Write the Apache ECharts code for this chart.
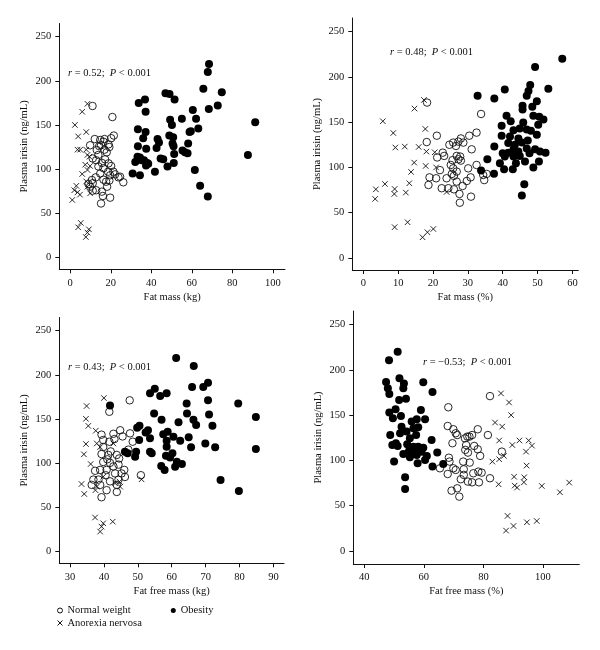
<!DOCTYPE html>
<html>
<head>
<meta charset="utf-8">
<script src="https://cdn.jsdelivr.net/npm/echarts@6/dist/echarts.min.js"></script>
<style>html,body{margin:0;padding:0;background:#fff;}#c{width:600px;height:650px;}</style>
</head>
<body>
<div id="c"></div>
<script>
// ---------- Panel 1: Fat mass (kg) vs plasma irisin ----------
const normal1 = [[11,171.5],[20.8,159],[21.5,138],[20.2,135],[12.1,134],[14.8,133],[16.9,134],[14.3,126],[15.2,127],[18.9,128],[9.8,127],[16.9,122],[18,119],[13.9,116],[11.1,112],[12.8,110],[17.2,111],[15.6,107],[18.9,106.5],[13.9,103],[16.4,101],[20.2,103.5],[21.3,97],[18.7,97],[22.1,94],[24.6,91.4],[26.2,85],[23.8,90.6],[19.7,93],[14.8,95],[12.6,90.6],[10.7,87.6],[11.1,84],[16.4,88],[17.7,85.7],[19.3,87],[18.2,80],[9,83],[9.8,80],[12.8,76],[11.1,75.5],[15.6,74.4],[16.1,69.5],[19.7,67.6],[15.2,61],[16.4,131],[19.3,125],[13.1,121.6]];
const obese1 = [[68.5,219],[67.9,210],[65.7,191],[74.8,187],[72.8,172],[68.4,168],[60.5,167],[47,186],[49,185],[51.5,179],[36.9,179],[33.8,175],[37.2,165],[55.1,157],[49.3,156],[62.1,157],[50.2,150],[91.3,153],[63.2,146],[59.5,143],[58.9,142],[33.4,145],[37.2,142],[36,135],[33.4,126],[37.5,123],[43.1,134],[43.8,130],[42.6,124],[48.9,138],[50.8,136],[50.5,129],[51,126],[58.2,129],[55.4,121],[56.6,119],[57.9,118],[51.3,117],[33.2,114],[34.4,113],[36.4,110],[38,107],[32.1,108],[37.4,104],[44.6,112],[45.9,111],[48,103],[51.1,107],[30.8,95],[34.4,93],[41.8,97],[61.5,99],[87.7,116],[64.1,81],[67.9,69],[35.2,110],[38.5,106]];
const anorexia1 = [[8.5,174],[5.9,165],[2.3,150],[7.9,142],[3.9,137],[3.6,122],[4.9,122],[7.9,122],[8.5,116],[9.5,114],[7.4,105],[9.8,103.5],[8.5,99],[5.9,94.4],[7.9,86],[3,81],[2,76],[3.6,73.6],[4.8,71],[1,65],[8.5,80],[9.8,72.5],[5.2,39],[3.9,34],[9.2,31.7],[8.5,28],[7.7,23]];

// ---------- Panel 2: Fat mass (%) ----------
const normal2 = [[18.3,171.6],[33.8,159],[32.5,138.4],[21.1,135],[30.4,135],[18.2,128],[28,132],[27.3,128.5],[25.8,127.4],[24.7,125],[28.7,127.4],[26.6,123.7],[31.1,120],[22.8,116.3],[23.2,112.7],[21.2,111],[26.8,112.7],[27.3,109],[27.8,112],[25.6,108],[28,107.5],[25.1,102.7],[22,97],[25.8,99],[26.8,95.4],[30.1,99],[32.5,102.7],[34.4,91.7],[35.4,92.8],[25.4,92.8],[26,90.6],[20.9,88],[19,89],[23.9,88],[30.8,89],[29.7,85],[26.8,84.3],[34.7,86],[18.7,80.6],[28.5,79.5],[22.5,77],[24.4,77],[26,75.8],[27.6,70.7],[30.9,67.7],[27.7,61]];
const obese2 = [[57.1,220],[49.3,211],[53.1,187],[47.9,191],[47.4,184.5],[46.9,179],[32.8,179],[37.6,176],[40.6,186],[49.8,173],[48.5,167],[45.7,168],[45.7,164],[41.1,157],[48.8,157],[50.5,156],[51.7,153],[42.3,151],[45.9,149.5],[39.7,146],[50.2,147],[44.9,143],[46.9,142],[43.1,141],[48.1,140.6],[39.7,135],[42.1,134],[49.8,136],[44.5,132],[47.2,129.6],[41.6,127],[43.5,125],[45.5,127.4],[37.6,123],[40,115.6],[41.6,116.3],[43.1,120],[44.5,117.5],[46.9,121],[49.3,120],[50.7,117.5],[52.3,116.3],[40.6,112],[43.1,112],[44.9,112.7],[47.7,115.6],[35.6,109],[39.2,104.6],[43.8,104.6],[46.4,106.4],[50.4,106.4],[40.4,98],[42.9,98],[48.8,100],[33.8,96.5],[37.5,93],[46.2,81.4],[45.5,69]];
const anorexia2 = [[17.4,174.5],[14.7,165],[5.6,151],[8.6,138],[17.8,142.5],[9.2,122],[11.9,123],[15.9,122.6],[18.1,117.5],[20.5,116.7],[14.6,105.3],[17.9,101.6],[13.7,95],[20.9,100],[13.2,82.5],[6.2,81.7],[3.6,75.8],[9,76.2],[8.9,70.7],[12.2,72.2],[3.4,65.2],[23.9,72.9],[12.7,39.4],[9,34],[20.1,32],[18.4,28.4],[17,22.8]];

// ---------- Panel 3: Fat free mass (kg) ----------
const normal3 = [[47.6,171],[41.6,158],[44.8,137],[42.8,133],[39.3,132],[47.7,133.5],[39.8,126],[41.6,124],[43.1,127],[48.5,124],[39.8,118],[47.2,115],[39.3,110],[41.3,109],[43.8,109],[39.8,101],[41.8,100],[42.8,96],[44.3,98],[37.4,91],[38.9,92],[40.8,92],[43.3,88],[45.2,88],[46.2,84],[50.9,86],[36.9,81],[38.4,81],[36.4,75],[38.9,75],[44.3,81],[43.8,75],[41.8,79],[39.3,61],[43.8,67],[40.8,69],[45.5,130],[41,104],[44.5,105],[46,92],[42,113],[40.5,86]];
const obese3 = [[61.3,219],[66.5,210],[70.7,191],[69.3,186],[66,186],[55,184],[53.6,179],[58.5,179],[56.6,176],[41.8,165],[70.7,171],[64.4,167.5],[79.6,167.5],[64.5,156],[71,155],[54.8,156],[84.8,152],[57,149],[66.4,149],[62,146],[67.2,143],[72,142],[50.5,142],[49.8,140],[53,137],[52.3,134.6],[58.8,135.4],[57.5,132.4],[60.5,129.7],[65,129],[53.6,128],[50.4,126],[58.5,125],[62.5,125],[58.5,118.4],[65.7,117.6],[69.9,122],[72.8,117.6],[84.8,115.7],[46.2,112.7],[47,110.8],[49.5,112.7],[53.6,112.7],[54.1,110.8],[49.2,107],[58.3,108],[59.5,106],[60.2,110.8],[56.9,96.4],[57.9,92],[61,95.7],[61.5,101.4],[63,98.7],[74.4,80.6],[79.8,68]];
const anorexia3 = [[40,173.6],[34.9,164.5],[34.7,150],[35.4,142],[37.6,136.5],[34.7,121.4],[37.9,122],[42.8,122],[34.1,109.7],[36.1,98.7],[39.8,84.3],[33.4,76],[37.9,73],[37.5,69],[34.2,64.7],[43.3,76.8],[44.8,73],[44.6,78.7],[51.1,81.3],[37.4,38],[39.8,31.4],[42.6,33.3],[39.3,27.6],[38.9,22],[38.9,118]];

// ---------- Panel 4: Fat free mass (%) ----------
const normal4 = [[82.2,171],[68.2,158.7],[68,138],[69.9,134.4],[70.7,130],[71.2,128],[73.8,124.4],[74.6,126.3],[75.3,126.3],[76.2,128],[78.1,134.4],[81.5,128],[69.6,119],[76.9,116],[78.1,112.3],[73.9,111.6],[74.8,108.6],[86.2,109.7],[78.9,105],[68.4,103],[68.6,98.7],[73.2,98.7],[75.4,97.6],[65.4,91.3],[69.9,91.3],[70.7,89.5],[73.4,90.2],[68,85],[76.6,85.8],[78.3,87.6],[79.4,86.5],[73.4,84],[72.4,79.2],[74.8,76.6],[76.2,75.8],[78.5,75.8],[82.2,80.3],[71.2,69.2],[69.3,66.6],[71.9,60],[74.2,117]];
const obese4 = [[51.2,220],[48.3,210.6],[47.3,186.7],[51.8,190.7],[53.3,185],[53.1,179.7],[59.8,186.3],[62.9,175.6],[47.9,179.7],[48.4,173.4],[51.7,166.8],[54,168],[48.4,153],[50.5,156.5],[59,155.7],[49.6,146.5],[52.3,149],[60.4,145.4],[55.9,143],[57.6,145.4],[52.5,137.3],[56.5,135.5],[58.1,136.6],[54.2,131.8],[52,130],[48.7,128],[57.4,128],[55.3,124.4],[62.6,122.6],[54.4,117.8],[49.4,117],[50.6,119],[51.2,116],[56.5,115.2],[58.1,115.2],[59.8,114],[55,110.5],[56.8,110.5],[59.2,109.7],[53.1,107],[57.6,106],[61,105],[64.5,108.6],[55.3,103.5],[60.4,100.5],[57.9,96.8],[50,98.7],[62.9,93.2],[66.5,96],[53.7,81.4],[53.7,68.5]];
const anorexia4 = [[85.9,174],[88.6,164],[89.3,150],[83.9,141.8],[86.3,137.3],[85.3,122],[92.1,122],[95.2,122],[89.7,117],[96.3,116.3],[94.3,109.7],[83,98.7],[85.3,101.3],[86.9,105],[94.5,94.3],[90.3,82],[93.7,81.4],[85.1,73.6],[90.5,72.2],[91.3,70],[93.6,75.8],[99.6,71.8],[108.8,75.5],[105.7,64.8],[88.1,38.7],[94.6,31.7],[97.9,33.1],[90.1,27.6],[87.6,22.5]];

// ---------- Axis ticks / labels / texts ----------
const yTicks = [0, 50, 100, 150, 200, 250];
const xTicks1 = [0, 20, 40, 60, 80, 100];
const xTicks2 = [0, 10, 20, 30, 40, 50, 60];
const xTicks3 = [30, 40, 50, 60, 70, 80, 90];
const xTicks4 = [40, 60, 80, 100];
const xNames = ['Fat mass (kg)', 'Fat mass (%)', 'Fat free mass (kg)', 'Fat free mass (%)'];
const yName = 'Plasma irisin (ng/mL)';
const rValues = ['0.52', '0.48', '0.43', '\u22120.53'];
const pText = '< 0.001';
const groupNames = ['Normal weight', 'Obesity', 'Anorexia nervosa'];

const FONT = '"Liberation Serif", "Times New Roman", serif';
const INK = '#111';

const grids = [
  {left: 59.3, top: 23.5, width: 225.7, height: 245.8},
  {left: 352.3, top: 18, width: 226, height: 252},
  {left: 59.3, top: 317.5, width: 224.7, height: 245.8},
  {left: 353.3, top: 311, width: 226, height: 253}
];
const xRanges = [[-5.4, 106], [-3.16, 61.7], [26.85, 93.1], [36.3, 112.2]];
const yRanges = [[-13.6, 265], [-13.3, 265], [-14, 265], [-14.4, 265]];
const xTickSets = [xTicks1, xTicks2, xTicks3, xTicks4];

function makeX(i) {
  return {
    type: 'value', gridIndex: i, min: xRanges[i][0], max: xRanges[i][1],
    name: xNames[i], nameLocation: 'middle', nameGap: 22,
    nameTextStyle: {fontFamily: FONT, fontSize: 10.5, color: INK},
    axisLine: {show: true, onZero: false, lineStyle: {color: INK, width: 1}},
    axisTick: {show: true, length: 4, customValues: xTickSets[i], lineStyle: {color: INK, width: 1}},
    axisLabel: {customValues: xTickSets[i], margin: 8, fontFamily: FONT, fontSize: 10.5, color: INK},
    splitLine: {show: false}
  };
}
function makeY(i) {
  return {
    type: 'value', gridIndex: i, min: yRanges[i][0], max: yRanges[i][1],
    name: yName, nameLocation: 'middle', nameGap: 30, nameRotate: 90,
    nameTextStyle: {fontFamily: FONT, fontSize: 10.5, color: INK},
    axisLine: {show: true, onZero: false, lineStyle: {color: INK, width: 1}},
    axisTick: {show: true, length: 4, customValues: yTicks, lineStyle: {color: INK, width: 1}},
    axisLabel: {customValues: yTicks, margin: 8, fontFamily: FONT, fontSize: 10.5, color: INK},
    splitLine: {show: false}
  };
}

const CROSS = 'path://M0,0L10,10M10,0L0,10';
const styleNormal = {symbol: 'circle', symbolSize: 7.5, itemStyle: {color: 'rgba(0,0,0,0)', borderColor: INK, borderWidth: 0.9, opacity: 1}};
const styleObese = {symbol: 'circle', symbolSize: 8, itemStyle: {color: '#000', borderWidth: 0, opacity: 1}};
const styleAnor = {symbol: CROSS, symbolSize: 5.5, itemStyle: {color: 'rgba(0,0,0,0)', borderColor: INK, borderWidth: 0.9, opacity: 1}};

const panels = [
  [normal1, obese1, anorexia1],
  [normal2, obese2, anorexia2],
  [normal3, obese3, anorexia3],
  [normal4, obese4, anorexia4]
];
const styles = [styleNormal, styleObese, styleAnor];

const series = [];
panels.forEach((sets, i) => {
  sets.forEach((d, k) => {
    series.push(Object.assign({
      type: 'scatter', name: groupNames[k], data: d,
      xAxisIndex: i, yAxisIndex: i, silent: true,
      emphasis: {disabled: true}
    }, JSON.parse(JSON.stringify(styles[k]))));
  });
});

const annPos = [[68, 67.5], [390, 46.5], [68, 362], [423, 356.5]];
const graphic = annPos.map((p, i) => ({
  type: 'text', left: p[0], top: p[1], silent: true,
  style: {
    text: '{i|r} = ' + rValues[i] + ';  {i|P} ' + pText,
    rich: {i: {fontStyle: 'italic', fontFamily: FONT, fontSize: 10.5, fill: INK}},
    fontFamily: FONT, fontSize: 10.5, fill: INK
  }
}));

const chart = echarts.init(document.getElementById('c'), null, {renderer: 'canvas'});
chart.setOption({
  animation: false,
  backgroundColor: '#fff',
  grid: grids.map(g => Object.assign({containLabel: false}, g)),
  xAxis: [0, 1, 2, 3].map(makeX),
  yAxis: [0, 1, 2, 3].map(makeY),
  legend: [
    {left: 57, top: 605, padding: 0, itemWidth: 5, itemHeight: 5, itemGap: 40, selectedMode: false,
     textStyle: {fontFamily: FONT, fontSize: 10.5, color: INK},
     data: [
       {name: groupNames[0], icon: 'circle', itemStyle: {color: '#fff', borderColor: INK, borderWidth: 1, opacity: 1}},
       {name: groupNames[1], icon: 'circle', itemStyle: {color: '#000', borderWidth: 0, opacity: 1}}
     ]},
    {left: 57, top: 617.5, padding: 0, itemWidth: 5, itemHeight: 5, selectedMode: false,
     textStyle: {fontFamily: FONT, fontSize: 10.5, color: INK},
     data: [
       {name: groupNames[2], icon: CROSS, itemStyle: {color: 'rgba(0,0,0,0)', borderColor: INK, borderWidth: 1, opacity: 1}}
     ]}
  ],
  graphic: graphic,
  series: series
});
</script>
</body>
</html>
